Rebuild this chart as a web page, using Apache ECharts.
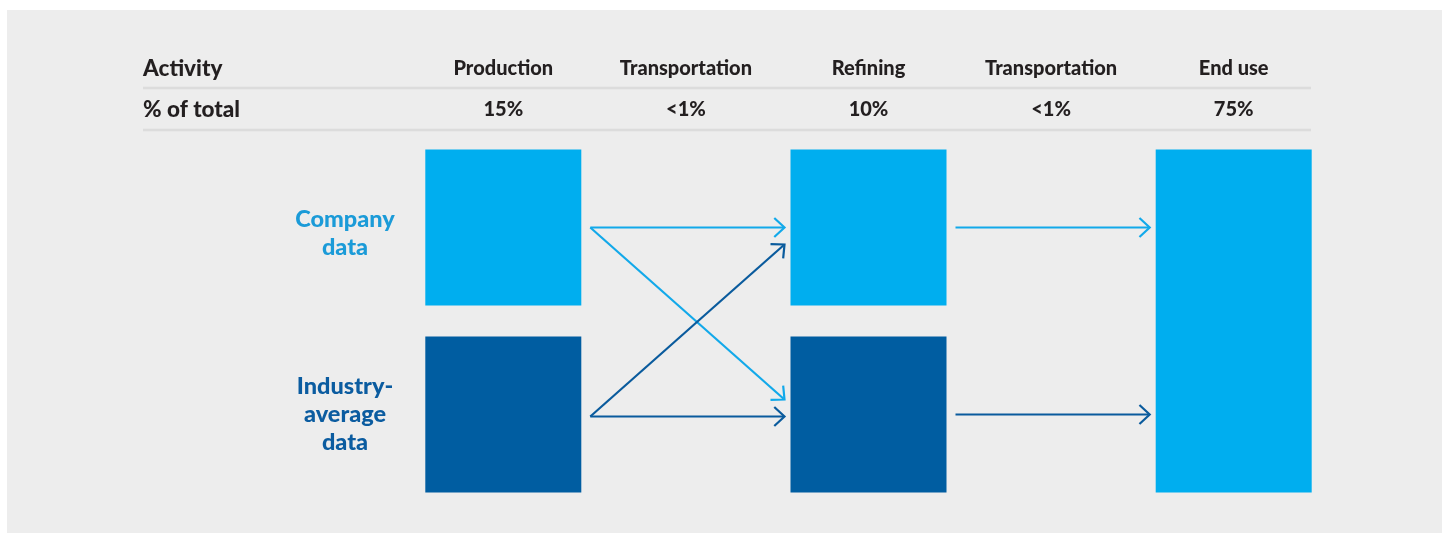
<!DOCTYPE html>
<html><head><meta charset="utf-8">
<script src="https://cdn.jsdelivr.net/npm/echarts@6/dist/echarts.min.js"></script>
<style>html,body{margin:0;padding:0;background:#fff}#c{width:1442px;height:533px}</style>
</head><body><div id="c"></div>
<script>
// ---- data ----
const categories = ['Production', 'Transportation', 'Refining', 'Transportation', 'End use'];
const shares = ['15%', '<1%', '10%', '<1%', '75%'];
const rowHeaders = ['Activity', '% of total'];
const sources = ['Company\ndata', 'Industry-\naverage\ndata'];
// boxes: [column index, first source row, last source row, tone (0 = company, 1 = industry)]
const boxes = [[0, 0, 0, 0], [0, 1, 1, 1], [2, 0, 0, 0], [2, 1, 1, 1], [4, 0, 1, 0]];
// flows: [from column, from row, to column, to row]
const flows = [[0, 0, 2, 0], [0, 0, 2, 1], [0, 1, 2, 0], [0, 1, 2, 1], [2, 0, 4, 0], [2, 1, 4, 1]];

// ---- style ----
const FONT = 'Lato, "Open Sans", sans-serif';
const W = 900;
const tones = ['#00AEEF', '#005DA1'];
const arrowColors = ['#12A9EA', '#0A5B9D'];
const labelColors = ['#1B9BD8', '#0B5CA0'];
const TEXT = '#231F20';
const BOX_W = 156, BOX_H = 156;

const chart = echarts.init(document.getElementById('c'), null, {renderer: 'canvas'});

const option = {
  backgroundColor: '#ffffff',
  animation: false,
  grid: {left: 412, right: 117, top: 134, bottom: 25},
  xAxis: {type: 'value', min: -0.5, max: 4.5, show: false},
  yAxis: {type: 'value', min: -0.5, max: 1.5, inverse: true, show: false},
  graphic: [
    {type: 'rect', z: -10, shape: {x: 7, y: 10, width: 1435, height: 523}, style: {fill: '#EDEDED'}},
    {type: 'line', shape: {x1: 143, y1: 88, x2: 1311, y2: 88}, style: {stroke: '#DCDCDC', lineWidth: 2.5}},
    {type: 'line', shape: {x1: 143, y1: 130, x2: 1311, y2: 130}, style: {stroke: '#DCDCDC', lineWidth: 2.5}},
    {type: 'text', style: {x: 143, y: 69, text: rowHeaders[0], fontFamily: FONT, fontWeight: W, fontSize: 22.5, fill: TEXT, align: 'left', verticalAlign: 'middle'}},
    {type: 'text', style: {x: 143, y: 110, text: rowHeaders[1], fontFamily: FONT, fontWeight: W, fontSize: 22.5, fill: TEXT, align: 'left', verticalAlign: 'middle'}}
  ],
  series: [
    {
      type: 'custom', name: 'headers', clip: false,
      data: categories.map((c, i) => [i, 0]),
      renderItem(params, api) {
        const i = params.dataIndex;
        const x = api.coord([api.value(0), 0])[0];
        return {type: 'group', children: [
          {type: 'text', style: {x, y: 69, text: categories[i], fontFamily: FONT, fontWeight: W, fontSize: 20, fill: TEXT, align: 'center', verticalAlign: 'middle'}},
          {type: 'text', style: {x, y: 110, text: shares[i], fontFamily: FONT, fontWeight: W, fontSize: 20, fill: TEXT, align: 'center', verticalAlign: 'middle'}}
        ]};
      }
    },
    {
      type: 'custom', name: 'sources', clip: false,
      data: sources.map((s, i) => [0, i]),
      renderItem(params, api) {
        const i = params.dataIndex;
        const y = api.coord([0, api.value(1)])[1] + (i === 0 ? 6 : 0);
        return {type: 'text', style: {x: 345, y, text: sources[i], fontFamily: FONT, fontWeight: W, fontSize: 23.5, lineHeight: 28, fill: labelColors[i], align: 'center', verticalAlign: 'middle'}};
      }
    },
    {
      type: 'custom', name: 'boxes', clip: false,
      data: boxes,
      renderItem(params, api) {
        const c1 = api.coord([api.value(0), api.value(1)]);
        const c2 = api.coord([api.value(0), api.value(2)]);
        return {type: 'rect', shape: {x: c1[0] - BOX_W / 2, y: c1[1] - BOX_H / 2, width: BOX_W, height: c2[1] - c1[1] + BOX_H}, style: {fill: tones[api.value(3)]}};
      }
    },
    {
      type: 'custom', name: 'flows', clip: false,
      data: flows,
      renderItem(params, api) {
        const fc = api.value(0), fr = api.value(1), tc = api.value(2), tr = api.value(3);
        const p0 = api.coord([fc, fr]), p1 = api.coord([tc, tr]);
        const sx = p0[0] + BOX_W / 2 + 9, ex = p1[0] - BOX_W / 2 - 6;
        const sy = p0[1] + (fr === 1 && tc === 2 ? 2 : 0);
        let ey = p1[1] + (tr === 1 && tc === 2 ? 2 : 0);
        if (fr !== tr) ey += (fr < tr ? -1 : 1) * 17;
        const color = arrowColors[fr];
        const ang = Math.atan2(ey - sy, ex - sx);
        const L = 14, a = 43 * Math.PI / 180;
        const h1 = [ex - L * Math.cos(ang - a), ey - L * Math.sin(ang - a)];
        const h2 = [ex - L * Math.cos(ang + a), ey - L * Math.sin(ang + a)];
        const lx = ex - Math.cos(ang) * 1.2, ly = ey - Math.sin(ang) * 1.2;
        return {type: 'group', children: [
          {type: 'line', shape: {x1: sx, y1: sy, x2: lx, y2: ly}, style: {stroke: color, lineWidth: 2.2}},
          {type: 'polyline', shape: {points: [h1, [ex, ey], h2]}, style: {stroke: color, lineWidth: 2.2, fill: null, lineJoin: 'miter'}}
        ]};
      }
    }
  ]
};
chart.setOption(option);
</script>
</body></html>
